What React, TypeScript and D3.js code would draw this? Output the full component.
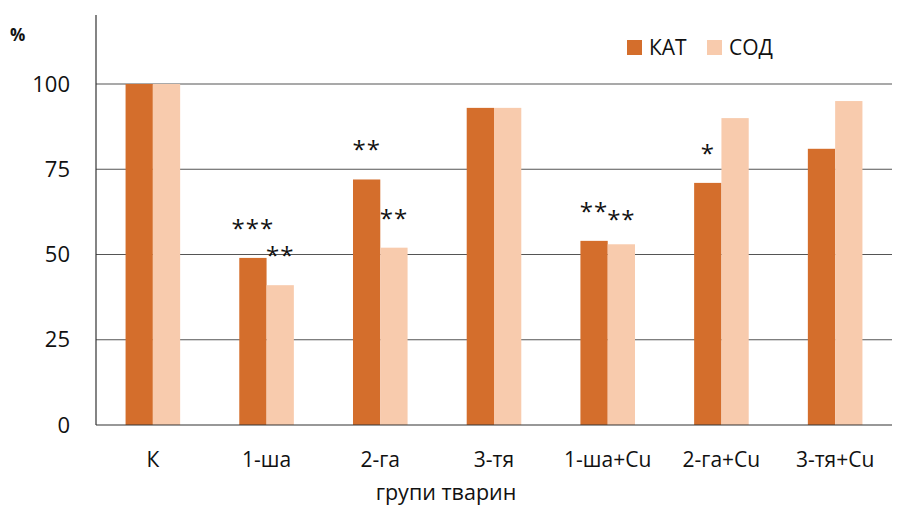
import React from "react";
import * as d3 from "d3";

const categories = ["К", "1-ша", "2-га", "3-тя", "1-ша+Cu", "2-га+Cu", "3-тя+Cu"];
const katValues = [100, 49, 72, 93, 54, 71, 81];
const sodValues = [100, 41, 52, 93, 53, 90, 95];
const katStars = ["", "***", "**", "", "**", "*", ""];
const sodStars = ["", "**", "**", "", "**", "", ""];
const yTicks = [0, 25, 50, 75, 100];
const seriesNames = ["КАТ", "СОД"];

const W = 901;
const H = 506;
const KAT = "#D46E2C";
const SOD = "#F8CBAD";
const FONT = "'Open Sans', 'Noto Sans', sans-serif";

export default function App() {
  const x = d3.scaleBand<string>().domain(categories).range([96, 892]).padding(0);
  const y = d3.scaleLinear().domain([0, 100]).range([425, 84]);
  const bw = x.bandwidth() * 0.24;

  const bars: { x: number; y: number; h: number; fill: string; stars: string }[] = [];
  categories.forEach((c, i) => {
    const cx = (x(c) as number) + x.bandwidth() / 2;
    bars.push({ x: cx - bw, y: y(katValues[i]), h: y(0) - y(katValues[i]), fill: KAT, stars: katStars[i] });
    bars.push({ x: cx, y: y(sodValues[i]), h: y(0) - y(sodValues[i]), fill: SOD, stars: sodStars[i] });
  });

  // star label positions, nudging a label down when it would touch the previous one
  const starW = 13.5;
  const labels: { x: number; y: number; text: string }[] = [];
  bars.forEach((b) => {
    if (!b.stars) return;
    const lx = b.x + bw / 2;
    let ly = b.y - 21;
    const prev = labels[labels.length - 1];
    if (prev) {
      const prevRight = prev.x + (prev.text.length * starW) / 2;
      const left = lx - (b.stars.length * starW) / 2;
      if (left < prevRight + 4 && Math.abs(prev.y - ly) < 8) ly = prev.y + 8;
    }
    labels.push({ x: lx, y: ly, text: b.stars });
  });

  return (
    <svg width={W} height={H} style={{ position: "absolute", left: 0, top: 0, background: "#fff" }}>
      {yTicks.filter((t) => t > 0).map((t) => (
        <line key={t} x1={96} x2={892} y1={y(t)} y2={y(t)} stroke="#555" strokeWidth={1.2} />
      ))}
      {bars.map((b, i) => (
        <rect key={i} x={b.x} y={b.y} width={bw} height={b.h} fill={b.fill} />
      ))}
      <line x1={96} x2={96} y1={15} y2={425} stroke="#333" strokeWidth={1.2} />
      <line x1={96} x2={892} y1={425} y2={425} stroke="#333" strokeWidth={1.2} />
      {yTicks.map((t) => (
        <text key={t} x={70} y={y(t)} dy="0.35em" textAnchor="end" fontFamily={FONT} fontSize={22} fill="#111">
          {t}
        </text>
      ))}
      <text x={10} y={41} fontFamily={FONT} fontSize={17} fontWeight="bold" fill="#111">%</text>
      {labels.map((l, i) => (
        <text key={i} x={l.x} y={l.y} textAnchor="middle" fontFamily={FONT} fontSize={24} letterSpacing={1} fill="#111">
          {l.text}
        </text>
      ))}
      {categories.map((c) => (
        <text
          key={c}
          x={(x(c) as number) + x.bandwidth() / 2}
          y={460}
          dy="0.35em"
          textAnchor="middle"
          fontFamily={FONT}
          fontSize={21}
          fill="#111"
        >
          {c}
        </text>
      ))}
      <text x={446} y={492} dy="0.35em" textAnchor="middle" fontFamily={FONT} fontSize={21.5} fill="#111">
        групи тварин
      </text>
      {seriesNames.map((s, i) => (
        <g key={s} transform={`translate(${627 + i * 80},40)`}>
          <rect x={0} y={0} width={15} height={15} fill={i === 0 ? KAT : SOD} />
          <text x={22} y={8} dy="0.35em" fontFamily={FONT} fontSize={21} fill="#111">{s}</text>
        </g>
      ))}
    </svg>
  );
}
